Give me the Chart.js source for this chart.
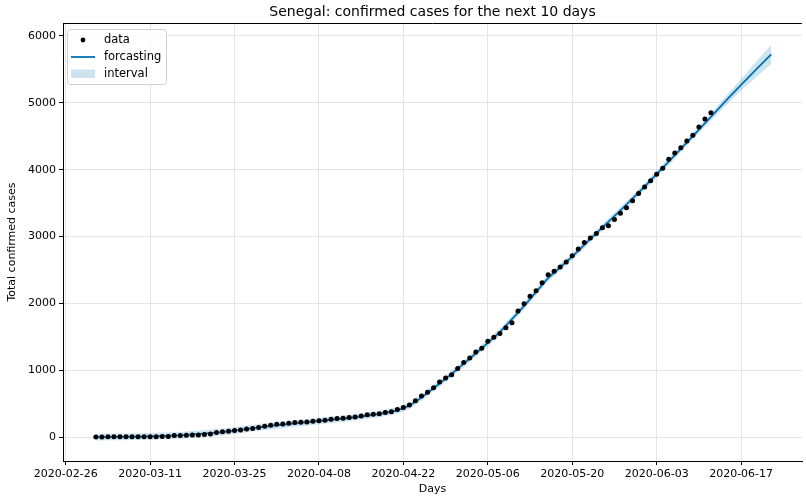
<!DOCTYPE html>
<html>
<head>
<meta charset="utf-8">
<script src="https://cdn.jsdelivr.net/npm/chart.js@4"></script>
<style>
  html, body { margin: 0; padding: 0; background: #fff; }
</style>
</head>
<body>
<canvas id="chartCanvas" width="806" height="496"></canvas>
<script>
// x axis = days after 2020-02-26
const startDate = Date.UTC(2020, 1, 26);
const firstDataDay = 5; // 2020-03-02

// total confirmed cases, one per day from 2020-03-02 to 2020-06-12
const confirmed = [
  1, 2, 4, 4, 4, 4, 4, 4, 4, 4, 4, 10, 10, 24, 24, 26, 31, 31, 38, 47,
  67, 79, 86, 99, 105, 119, 130, 142, 162, 175,
  190, 195, 207, 219, 222, 226, 237, 244, 250, 265, 278, 280, 291, 299, 314,
  335, 342, 350, 367, 377, 412, 442, 479, 545, 614, 671, 736, 823, 882, 933,
  1024, 1115, 1182, 1271, 1329, 1433, 1492, 1551, 1634, 1709, 1886, 1995, 2105,
  2189, 2310, 2429, 2480, 2544, 2617, 2714, 2812, 2909, 2976, 3047, 3130, 3161,
  3253, 3348, 3429, 3535, 3645,
  3739, 3836, 3932, 4021, 4155, 4249, 4328, 4427, 4515, 4640, 4759, 4851
];

// forecast (fit + next 10 days)
const forecastDays = [5, 12, 19, 26, 33, 40, 47, 52, 55, 57, 59, 61, 64, 68, 72, 76, 80, 84, 88, 92, 96, 100, 104, 107, 110, 112, 115, 117];
const forecastMid  = [0, 8, 25, 75, 155, 222, 285, 345, 400, 470, 590, 730, 945, 1250, 1570, 1960, 2380, 2700, 3050, 3390, 3745, 4120, 4500, 4790, 5080, 5270, 5545, 5725];
const forecastHigh = [50, 58, 75, 125, 205, 272, 335, 395, 450, 520, 640, 780, 995, 1300, 1620, 2010, 2430, 2750, 3100, 3440, 3795, 4170, 4550, 4845, 5150, 5355, 5665, 5870];
const forecastLow  = [-50, -42, -25, 25, 105, 172, 235, 295, 350, 420, 540, 680, 895, 1200, 1520, 1910, 2330, 2650, 3000, 3340, 3695, 4070, 4450, 4735, 5010, 5185, 5425, 5580];

const xTicks = [0, 14, 28, 42, 56, 70, 84, 98, 112];
const yTicks = [0, 1000, 2000, 3000, 4000, 5000, 6000];

const blue = '#0072B2';
const band = 'rgba(0,114,178,0.2)';
const font = 'DejaVu Sans';

function dayLabel(d) {
  const dt = new Date(startDate + d * 86400000);
  return dt.toISOString().slice(0, 10);
}

const dataPts = confirmed.map((v, i) => ({ x: firstDataDay + i, y: v }));
const pts = arr => arr.map((v, i) => ({ x: forecastDays[i], y: v }));

// title, top spine and legend drawn like the matplotlib figure
const extras = {
  id: 'extras',
  afterDraw(chart) {
    const ctx = chart.ctx;
    const a = chart.chartArea;
    ctx.save();
    ctx.strokeStyle = '#000';
    ctx.lineWidth = 1;
    ctx.beginPath();
    ctx.moveTo(a.left, a.top + 0.5);
    ctx.lineTo(a.right, a.top + 0.5);
    ctx.stroke();

    ctx.fillStyle = '#000';
    ctx.font = '14px "' + font + '"';
    ctx.textAlign = 'center';
    ctx.textBaseline = 'middle';
    ctx.fillText('Senegal: confirmed cases for the next 10 days', (a.left + a.right) / 2, 12);

    // legend
    const bx = 67, by = 29, bw = 99, bh = 55;
    ctx.fillStyle = 'rgba(255,255,255,0.8)';
    ctx.strokeStyle = '#d0d0d0';
    ctx.beginPath();
    ctx.roundRect(bx + 0.5, by + 0.5, bw, bh, 3);
    ctx.fill();
    ctx.stroke();

    ctx.fillStyle = '#000';
    ctx.beginPath();
    ctx.arc(83, 40, 2.4, 0, Math.PI * 2);
    ctx.fill();

    ctx.strokeStyle = blue;
    ctx.lineWidth = 1.8;
    ctx.beginPath();
    ctx.moveTo(71, 57);
    ctx.lineTo(95, 57);
    ctx.stroke();

    ctx.fillStyle = band;
    ctx.fillRect(71, 69.5, 24, 8.5);

    ctx.fillStyle = '#000';
    ctx.font = '11.5px "' + font + '"';
    ctx.textAlign = 'left';
    ctx.fillText('data', 104, 40);
    ctx.fillText('forcasting', 104, 57);
    ctx.fillText('interval', 104, 74);
    ctx.restore();
  }
};

new Chart(document.getElementById('chartCanvas').getContext('2d'), {
  type: 'line',
  data: {
    datasets: [
      {
        label: 'data',
        data: dataPts,
        showLine: false,
        pointRadius: 2.5,
        pointBackgroundColor: '#000',
        pointBorderWidth: 0,
        order: 0
      },
      {
        label: 'forcasting',
        data: pts(forecastMid),
        borderColor: blue,
        borderWidth: 1.8,
        pointRadius: 0,
        fill: false,
        order: 1
      },
      {
        label: 'interval',
        data: pts(forecastHigh),
        borderWidth: 0,
        borderColor: 'rgba(0,0,0,0)',
        backgroundColor: band,
        pointRadius: 0,
        fill: '+1',
        order: 2
      },
      {
        label: 'interval low',
        data: pts(forecastLow),
        borderWidth: 0,
        borderColor: 'rgba(0,0,0,0)',
        pointRadius: 0,
        fill: false,
        order: 3
      }
    ]
  },
  options: {
    responsive: false,
    devicePixelRatio: 1,
    animation: false,
    layout: { padding: { top: 23, right: 0, left: 0, bottom: 0 } },
    plugins: {
      legend: { display: false },
      title: { display: false },
      tooltip: { enabled: false }
    },
    scales: {
      x: {
        type: 'linear',
        min: -0.45,
        max: 122.1,
        afterBuildTicks: s => { s.ticks = xTicks.map(v => ({ value: v })); },
        afterFit: s => { s.height = 35; },
        ticks: {
          color: '#000',
          font: { family: font, size: 11 },
          padding: 3,
          maxRotation: 0,
          callback: v => dayLabel(v)
        },
        grid: { color: '#e4e4e4', tickColor: '#000', tickLength: 4 },
        border: { color: '#000', width: 1 },
        title: {
          display: true,
          text: 'Days',
          color: '#000',
          font: { family: font, size: 11 },
          padding: { top: 0, bottom: 0 }
        }
      },
      y: {
        min: -358,
        max: 6194,
        afterBuildTicks: s => { s.ticks = yTicks.map(v => ({ value: v })); },
        afterFit: s => { s.width = 63; },
        ticks: {
          color: '#000',
          font: { family: font, size: 11 },
          padding: 3,
          callback: v => String(v)
        },
        grid: { color: '#e4e4e4', tickColor: '#000', tickLength: 4 },
        border: { color: '#000', width: 1 },
        title: {
          display: true,
          text: 'Total confirmed cases',
          color: '#000',
          font: { family: font, size: 11 },
          padding: { top: 6, bottom: 0 }
        }
      }
    }
  },
  plugins: [extras]
});
</script>
</body>
</html>
